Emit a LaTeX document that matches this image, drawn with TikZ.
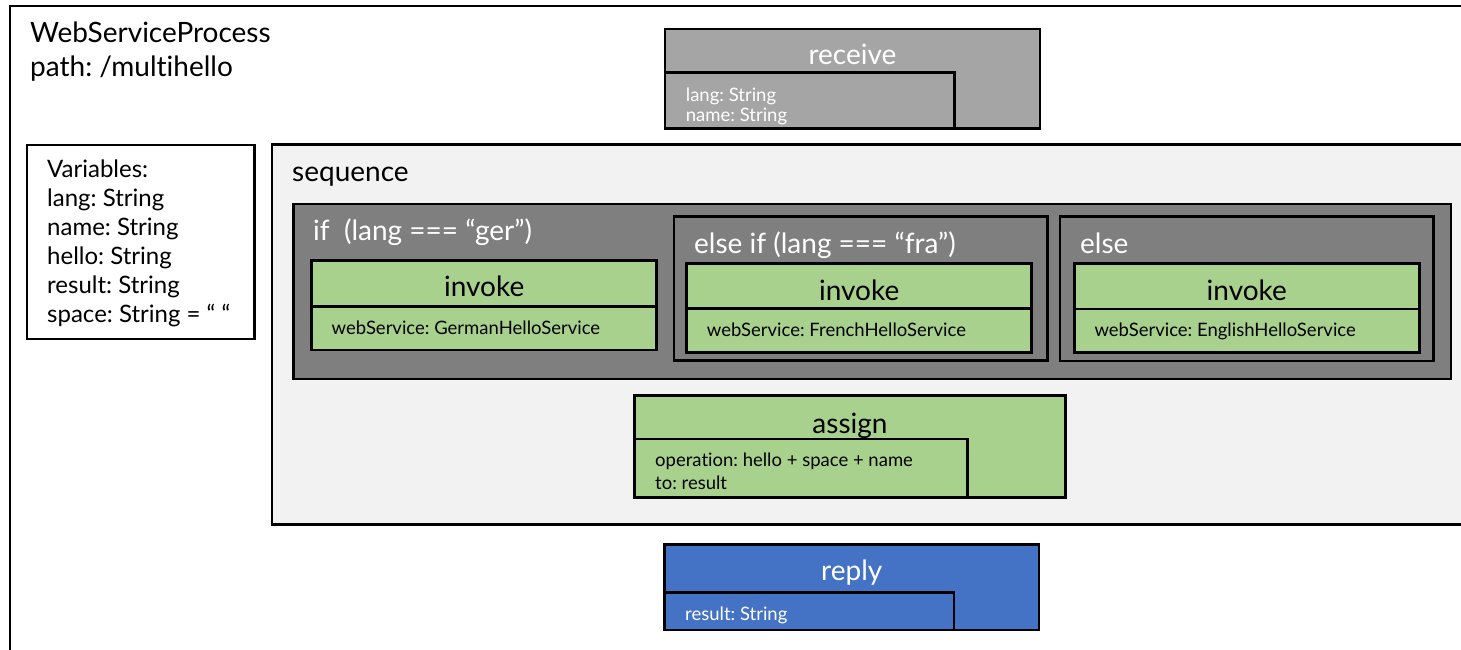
\documentclass[tikz,border=0pt]{standalone}
\usepackage{fontspec}
\setmainfont{Lato}[Ligatures=NoCommon]
\definecolor{recgrey}{HTML}{A5A5A5}
\definecolor{seqgrey}{HTML}{F2F2F2}
\definecolor{ifgrey}{HTML}{7F7F7F}
\definecolor{actgreen}{HTML}{A9D18E}
\definecolor{repblue}{HTML}{4472C4}

\begin{document}
\frenchspacing
\begin{tikzpicture}[x=1pt, y=-1pt,
	box/.style={draw, line width=2.5pt, inner sep=0pt, outer sep=0pt, anchor=north west},
	txt/.style={inner sep=0pt, anchor=base west},
	head/.style={inner sep=0pt, anchor=base},
	big/.style={font=\fontsize{28}{33}\selectfont},
	mid/.style={font=\fontsize{24}{29}\selectfont},
	small/.style={font=\fontsize{18.5}{22}\selectfont}]

	\useasboundingbox (0,0) rectangle (1461,650);
	\clip (0,0) rectangle (1461,650);

	\node[box, fill=white, minimum width=1500pt, minimum height=700pt] (process) at (10,6) {};
	\node[txt, big] (title) at (30,43) {WebServiceProcess};
	\node[txt, big] (path) at (30,76.5) {path: /multihello};

	\node[box, minimum width=227.6pt, minimum height=194pt] (vars) at (27,145) {};
	\foreach \t [count=\i] in {Variables:, lang: String, name: String, hello: String, result: String, space: String = “ “}
		\node[txt, mid] (var\i) at (47,148.7+29*\i) {\t};

	\node[box, fill=recgrey, minimum width=375pt, minimum height=99.5pt] (receive) at (665,29) {};
	\node[box, fill=recgrey, minimum width=289.5pt, minimum height=56pt] (recvpar) at (665,72.3) {};
	\node[head, big, white] (recvhead) at (852.5,65) {receive};
	\node[txt, small, white] (recvlang) at (685.7,102) {lang: String};
	\node[txt, small, white] (recvname) at (685.7,121.7) {name: String};

	\node[box, fill=seqgrey, minimum width=1300pt, minimum height=380pt] (sequence) at (272,144.5) {};
	\node[txt, big] (seqhead) at (292,181) {sequence};

	\node[box, fill=ifgrey, minimum width=1157.5pt, minimum height=175pt] (if) at (293.3,203.8) {};
	\node[txt, big, white] (ifhead) at (313,240) {if\ \ (lang === “ger”)};
	\node[box, fill=actgreen, minimum width=345pt, minimum height=46pt] (invger) at (311.7,260.7) {};
	\node[box, fill=actgreen, minimum width=345pt, minimum height=43.3pt] (invgerpar) at (311.7,306.7) {};
	\node[head, big] (invgerhead) at (484.2,296.7) {invoke};
	\node[txt, small] (invgertxt) at (331.5,334) {webService: GermanHelloService};

	\node[box, fill=ifgrey, minimum width=373.3pt, minimum height=144pt] (elseif) at (674,216.7) {};
	\node[txt, big, white] (elseifhead) at (694,253) {else if (lang === “fra”)};
	\node[box, fill=actgreen, minimum width=345pt, minimum height=45pt] (invfra) at (686.7,263.3) {};
	\node[box, fill=actgreen, minimum width=345pt, minimum height=44pt] (invfrapar) at (686.7,308.3) {};
	\node[head, big] (invfrahead) at (859.2,300) {invoke};
	\node[txt, small] (invfratxt) at (706.7,336.7) {webService: FrenchHelloService};

	\node[box, fill=ifgrey, minimum width=373.3pt, minimum height=144.5pt] (else) at (1060,216.7) {};
	\node[txt, big, white] (elsehead) at (1080,253) {else};
	\node[box, fill=actgreen, minimum width=345pt, minimum height=45.5pt] (inveng) at (1074.3,263.3) {};
	\node[box, fill=actgreen, minimum width=345pt, minimum height=43.5pt] (invengpar) at (1074.3,308.8) {};
	\node[head, big] (invenghead) at (1246.8,300) {invoke};
	\node[txt, small] (invengtxt) at (1094.3,336.7) {webService: EnglishHelloService};

	\node[box, fill=actgreen, minimum width=431.4pt, minimum height=101.6pt] (assign) at (634.3,395.7) {};
	\node[box, fill=actgreen, minimum width=333.4pt, minimum height=58.3pt] (assignpar) at (634.3,439) {};
	\node[head, big] (assignhead) at (850,433.3) {assign};
	\node[txt, small] (assignop) at (655,466) {operation: hello + space + name};
	\node[txt, small] (assignto) at (655,489.3) {to: result};

	\node[box, fill=repblue, minimum width=374.7pt, minimum height=85.7pt] (reply) at (664.3,544.3) {};
	\node[box, fill=repblue, minimum width=289.7pt, minimum height=37.7pt] (replypar) at (664.3,592.3) {};
	\node[head, big, white] (replyhead) at (851.7,580.7) {reply};
	\node[txt, small, white] (replyres) at (685,620.7) {result: String};

\end{tikzpicture}
\end{document}
